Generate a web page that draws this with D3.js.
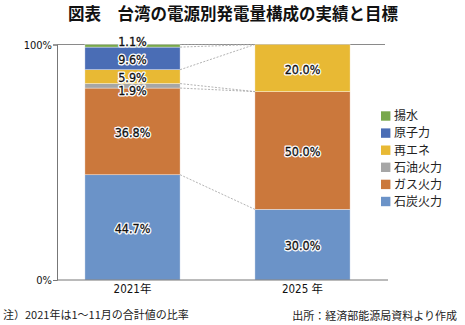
<!DOCTYPE html>
<html>
<head>
<meta charset="utf-8">
<script src="https://cdn.jsdelivr.net/npm/d3@7"></script>
<style>
  body { margin: 0; background: #fff; }
  text { font-family: "Noto Sans CJK JP", sans-serif; }
  .num { font-family: "Liberation Sans Narrow", "DejaVu Sans Condensed", "Noto Sans CJK JP", sans-serif; }
</style>
</head>
<body>
<div id="chart"></div>
<script>
// 台湾の電源別発電量構成（%）
const years = ['2021年', '2025 年'];
const sources = ['石炭火力', 'ガス火力', '石油火力', '再エネ', '原子力', '揚水'];
const share2021 = [44.7, 36.8, 1.9, 5.9, 9.6, 1.1];
const share2025 = [30.0, 50.0, 0, 20.0, 0, 0];
const yTicks = [0, 100];
const palette = ['#6b93c8', '#cb783c', '#a6a6a6', '#e8b934', '#4a6db5', '#78a84b'];

const width = 465;
const height = 325;

const rows = years.map((year, i) => {
  const vals = i === 0 ? share2021 : share2025;
  const row = { year };
  sources.forEach((s, j) => { row[s] = vals[j]; });
  return row;
});

const stacked = d3.stack().keys(sources)(rows);
const color = d3.scaleOrdinal().domain(sources).range(palette);

const svg = d3.select('#chart').append('svg')
  .attr('width', width)
  .attr('height', height)
  .style('display', 'block');

const plot = { left: 57, right: 388, top: 44.5, bottom: 280 };

const x = d3.scaleBand()
  .domain(years)
  .range([47.5, 387.5])
  .paddingInner(0.44)
  .paddingOuter(0.22);

const y = d3.scaleLinear()
  .domain([0, 100])
  .range([plot.bottom, plot.top]);

// title
svg.append('text')
  .attr('x', 233)
  .attr('y', 19.5)
  .attr('text-anchor', 'middle')
  .attr('font-size', 16.5)
  .attr('font-weight', 'bold')
  .attr('fill', '#111')
  .text('図表　台湾の電源別発電量構成の実績と目標');

// gridline at 100%
svg.append('line')
  .attr('x1', plot.left).attr('x2', 385)
  .attr('y1', y(100)).attr('y2', y(100))
  .attr('stroke', '#8a8a8a').attr('stroke-width', 1);

// bars
const layer = svg.append('g').selectAll('g')
  .data(stacked)
  .enter().append('g')
  .attr('fill', d => color(d.key));

layer.selectAll('rect')
  .data(d => d)
  .enter().append('rect')
  .attr('x', d => x(d.data.year))
  .attr('y', d => y(d[1]))
  .attr('width', x.bandwidth())
  .attr('height', d => y(d[0]) - y(d[1]))
  .attr('stroke', '#fff')
  .attr('stroke-opacity', 0.6)
  .attr('stroke-width', 0.6);

// series lines between bars
svg.append('g').selectAll('line')
  .data(stacked)
  .enter().append('line')
  .attr('x1', x(years[0]) + x.bandwidth())
  .attr('x2', x(years[1]))
  .attr('y1', d => y(d[0][1]))
  .attr('y2', d => y(d[1][1]))
  .attr('stroke', '#a0a0a0')
  .attr('stroke-width', 0.8)
  .attr('stroke-dasharray', '2,1.5');

// axes
const yAxis = svg.append('g')
  .attr('transform', `translate(${plot.left},0)`)
  .call(d3.axisLeft(y).tickValues(yTicks).tickSize(4).tickFormat(d => d + '%'));
yAxis.select('.domain').attr('stroke', '#777');
yAxis.selectAll('.tick line').attr('stroke', '#777');
yAxis.selectAll('.tick text')
  .attr('class', 'num')
  .attr('font-size', 11)
  .attr('fill', '#111')
  .attr('x', -5);

svg.append('line')
  .attr('x1', plot.left).attr('x2', plot.right)
  .attr('y1', plot.bottom).attr('y2', plot.bottom)
  .attr('stroke', '#777').attr('stroke-width', 1);

const xAxis = svg.append('g')
  .attr('transform', `translate(0,${plot.bottom})`)
  .call(d3.axisBottom(x).tickSize(0).tickPadding(5));
xAxis.select('.domain').remove();
xAxis.selectAll('.tick text')
  .attr('class', 'num')
  .attr('font-size', 11.5)
  .attr('fill', '#111');

// value labels (thin segments nudged apart so they do not collide)
const labels = [];
stacked.forEach((s, si) => {
  s.forEach(d => {
    const v = d[1] - d[0];
    if (v <= 0) return;
    let cy = y((d[0] + d[1]) / 2);
    if (v < 3) cy += si === stacked.length - 1 ? -5 : 3.5;
    labels.push({ x: x(d.data.year) + x.bandwidth() / 2, y: cy + 1, text: v.toFixed(1) + '%' });
  });
});

const lab = svg.append('g').selectAll('g')
  .data(labels)
  .enter().append('g');
lab.append('text')
  .attr('class', 'num')
  .attr('x', d => d.x).attr('y', d => d.y)
  .attr('dy', '0.36em')
  .attr('text-anchor', 'middle')
  .attr('font-size', 12.5)
  .attr('stroke', '#fff')
  .attr('stroke-width', 2.8)
  .attr('stroke-linejoin', 'round')
  .attr('fill', '#fff')
  .text(d => d.text);
lab.append('text')
  .attr('class', 'num')
  .attr('x', d => d.x).attr('y', d => d.y)
  .attr('dy', '0.36em')
  .attr('text-anchor', 'middle')
  .attr('font-size', 12.5)
  .attr('fill', '#111')
  .attr('stroke', '#111')
  .attr('stroke-width', 0.3)
  .text(d => d.text);

// legend
const legendKeys = sources.slice().reverse();
const legend = svg.append('g').selectAll('g')
  .data(legendKeys)
  .enter().append('g')
  .attr('transform', (d, i) => `translate(381,${116 + i * 17.1})`);
legend.append('rect')
  .attr('x', 0).attr('y', -4.7)
  .attr('width', 9.4).attr('height', 9.4)
  .attr('fill', d => color(d));
legend.append('text')
  .attr('x', 13).attr('y', 0)
  .attr('dy', '0.36em')
  .attr('font-size', 12)
  .attr('fill', '#222')
  .text(d => d);

// notes
svg.append('text')
  .attr('x', 3).attr('y', 319)
  .attr('font-size', 11)
  .attr('fill', '#222')
  .text('注）2021年は1～11月の合計値の比率');

svg.append('text')
  .attr('x', 457).attr('y', 320)
  .attr('text-anchor', 'end')
  .attr('font-size', 11)
  .attr('fill', '#222')
  .text('出所：経済部能源局資料より作成');
</script>
</body>
</html>
